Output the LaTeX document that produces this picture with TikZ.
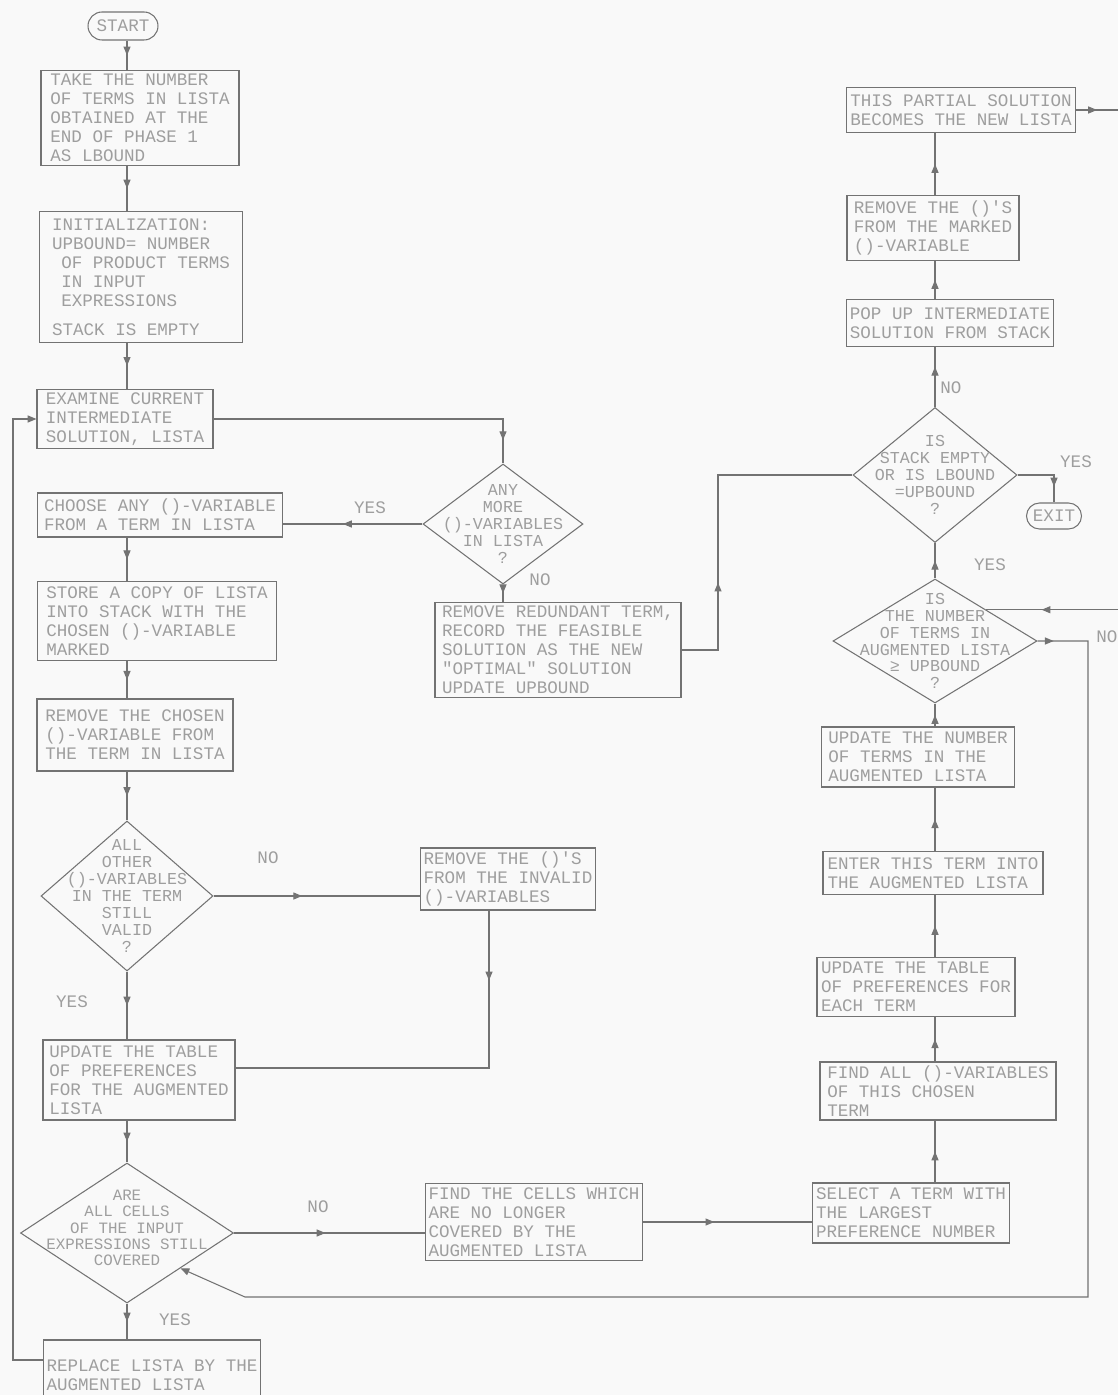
\documentclass[tikz,border=0pt]{standalone}
\usepackage{fontspec}
\usepackage{tikz}
\usetikzlibrary{arrows.meta, decorations.markings, shapes.geometric, shapes.misc}
\newfontfamily\flowfont{Liberation Mono}
\definecolor{scanline}{gray}{0.45}
\definecolor{scantext}{gray}{0.62}
\definecolor{scanpaper}{gray}{0.975}

\begin{document}
\begin{tikzpicture}[x=0.02cm, y=-0.02cm, font=\flowfont\fontsize{10}{10.8}\selectfont,
	sz/.style 2 args={minimum width=#1*0.02cm, minimum height=#2*0.02cm},
	box/.style={draw=scanline, line width=0.6pt, rectangle, text=scantext, align=left, inner sep=2pt},
	dec/.style={draw=scanline, line width=0.6pt, diamond, inner sep=0pt},
	dtxt/.style={text=scantext, align=center, inner sep=0pt, font=\flowfont\fontsize{9.5}{9.6}\selectfont},
	term/.style={draw=scanline, line width=0.6pt, rounded rectangle, text=scantext, inner sep=2pt},
	lbl/.style={text=scantext, inner sep=0pt},
	conn/.style={draw=scanline, line width=0.6pt},
	endarr/.style={-{Triangle[length=5pt, width=4pt]}},
	marr/.style={conn, postaction={decorate, decoration={markings, mark=at position #1 with {\arrow{Triangle[length=5pt, width=4pt]}}}}},
	marr/.default=0.5]
			
			% paper
			\fill[scanpaper] (0,0) rectangle (1118,1395);
			\useasboundingbox (0,0) rectangle (1118,1395);
			\coordinate (lc) at (127,0);
			\coordinate (rc) at (935,0);
			\coordinate (offR) at (1118,0);
			
			% Left column: phase 2 start
			\node[term, sz={77}{28}] (start) at (123,26) {START};
			\node[box, sz={198}{94}] (b1) at (140,118) {TAKE THE NUMBER\\OF TERMS IN LISTA\\OBTAINED AT THE\\END OF PHASE 1\\AS LBOUND};
			\node[box, sz={203}{131}] (b2) at (141,277) {INITIALIZATION:\\UPBOUND= NUMBER\\\hspace*{1ex}OF PRODUCT TERMS\\\hspace*{1ex}IN INPUT\\\hspace*{1ex}EXPRESSIONS\\[0.2cm]STACK IS EMPTY};
			\node[box, sz={176}{58}] (b3) at (125,419) {EXAMINE CURRENT\\INTERMEDIATE\\SOLUTION, LISTA};
			\node[box, sz={245}{44}] (b4) at (160,515) {CHOOSE ANY ()-VARIABLE\\FROM A TERM IN LISTA};
			\node[box, sz={239}{79}] (b5) at (157,621) {STORE A COPY OF LISTA\\INTO STACK WITH THE\\CHOSEN ()-VARIABLE\\MARKED};
			\node[box, sz={196}{72}] (b6) at (135,735) {REMOVE THE CHOSEN\\()-VARIABLE FROM\\THE TERM IN LISTA};
			
			% Validity test
			\node[dec, sz={172}{150}] (d2) at (127,896) {};
			\node[dtxt] at (d2) {ALL\\OTHER\\()-VARIABLES\\IN THE TERM\\STILL\\VALID\\?};
			\node[box, sz={171}{62}] (b7) at (508,879) {REMOVE THE ()'S\\FROM THE INVALID\\()-VARIABLES};
			\node[box, sz={192}{80}] (b8) at (139,1080) {UPDATE THE TABLE\\OF PREFERENCES\\FOR THE AUGMENTED\\LISTA};
			
			% Covering test
			\node[dec, sz={213}{140}] (d3) at (127,1233) {};
			\node[dtxt, font=\flowfont\fontsize{9}{9.2}\selectfont, yshift=0.1cm] at (d3) {ARE\\ALL CELLS\\OF THE INPUT\\EXPRESSIONS STILL\\COVERED};
			\node[box, sz={197}{77}] (b9) at (534,1222) {FIND THE CELLS WHICH\\ARE NO LONGER\\COVERED BY THE\\AUGMENTED LISTA};
			\node[box, sz={210}{70}] (b19) at (152,1375) {REPLACE LISTA BY THE\\AUGMENTED LISTA};
			
			% Middle: any more variables
			\node[dec, sz={160}{120}] (d1) at (503,524) {};
			\node[dtxt] at (d1) {ANY\\MORE\\()-VARIABLES\\IN LISTA\\?};
			\node[box, sz={246}{95}] (b15) at (558,650) {REMOVE REDUNDANT TERM,\\RECORD THE FEASIBLE\\SOLUTION AS THE NEW\\"OPTIMAL" SOLUTION\\UPDATE UPBOUND};
			
			% Right column (read bottom to top)
			\node[box, sz={178}{60}] (b10) at (911,1213) {SELECT A TERM WITH\\THE LARGEST\\PREFERENCE NUMBER};
			\node[box, sz={236}{58}] (b11) at (938,1091) {FIND ALL ()-VARIABLES\\OF THIS CHOSEN\\TERM};
			\node[box, sz={198}{59}] (b12) at (916,987) {UPDATE THE TABLE\\OF PREFERENCES FOR\\EACH TERM};
			\node[box, sz={220}{43}] (b13) at (933,873) {ENTER THIS TERM INTO\\THE AUGMENTED LISTA};
			\node[box, sz={193}{60}] (b14) at (918,757) {UPDATE THE NUMBER\\OF TERMS IN THE\\AUGMENTED LISTA};
			\node[dec, sz={204}{124}] (d4) at (935,641) {};
			\node[dtxt] at (d4) {IS\\THE NUMBER\\OF TERMS IN\\AUGMENTED LISTA\\≥ UPBOUND\\?};
			\node[dec, sz={164}{135}] (d5) at (935,475) {};
			\node[dtxt] at (d5) {IS\\STACK EMPTY\\OR IS LBOUND\\=UPBOUND\\?};
			\node[term, sz={62}{26}] (exit) at (1054,516) {EXIT};
			\node[box, sz={207}{47}] (b16) at (950,323) {POP UP INTERMEDIATE\\SOLUTION FROM STACK};
			\node[box, sz={172}{65}] (b17) at (933,228) {REMOVE THE ()'S\\FROM THE MARKED\\()-VARIABLE};
			\node[box, sz={229}{45}] (b18) at (961,110) {THIS PARTIAL SOLUTION\\BECOMES THE NEW LISTA};
			
			% Connectors, left column
			\draw[marr] (lc |- start.south) -- (lc |- b1.north);
			\draw[marr] (lc |- b1.south) -- (lc |- b2.north);
			\draw[marr] (lc |- b2.south) -- (lc |- b3.north);
			\draw[marr] (lc |- b4.south) -- (lc |- b5.north);
			\draw[marr] (lc |- b5.south) -- (lc |- b6.north);
			\draw[marr] (lc |- b6.south) -- (d2.north);
			\draw[marr] (d2.south) -- (lc |- b8.north);
			\draw[marr] (lc |- b8.south) -- (d3.north);
			\draw[marr] (d3.south) -- (lc |- b19.north);
			\coordinate (k19) at (13,1360);
			\draw[conn, endarr] (b19.west |- k19) -- (k19) -- (k19 |- b3.west) -- (b3.west);
			
			% Connectors, middle
			\draw[marr=0.93] (b3.east) -- (b3.east -| d1.north) -- (d1.north);
			\draw[marr=0.57] (d1.west) -- (d1.west -| b4.east);
			\draw[marr] (d1.south) -- (d1.south |- b15.north);
			\draw[marr=0.43] (d2.east) -- (d2.east -| b7.west);
			\coordinate (k7) at (489,1068);
			\draw[marr=0.17] (b7.south -| k7) -- (k7) -- (k7 -| b8.east);
			\draw[marr=0.48] (d3.east) -- (d3.east -| b9.west);
			\draw[marr=0.42] (b9.east) -- (b9.east -| b10.west);
			\coordinate (k15) at (718,650);
			\draw[marr=0.3] (b15.east) -- (k15) -- (k15 |- d5.west) -- (d5.west);
			
			% Connectors, right column
			\draw[marr] (rc |- b10.north) -- (rc |- b11.south);
			\draw[marr] (rc |- b11.north) -- (rc |- b12.south);
			\draw[marr] (rc |- b12.north) -- (rc |- b13.south);
			\draw[marr] (rc |- b13.north) -- (rc |- b14.south);
			\draw[marr] (rc |- b14.north) -- (d4.south);
			\draw[marr] (d4.north) -- (d5.south);
			\draw[marr=0.67] (d5.north) -- (rc |- b16.south);
			\draw[marr] (rc |- b16.north) -- (rc |- b17.south);
			\draw[marr] (rc |- b17.north) -- (rc |- b18.south);
			\draw[marr] (b18.east) -- (b18.east -| offR);
			\draw[marr=0.58] (d4.north east -| offR) -- (d4.north east);
			\draw[marr=0.75] (d5.east) -- (d5.east -| exit.north) -- (exit.north);
			\coordinate (r1) at (1088,1297);
			\coordinate (r2) at (245,1297);
			\draw[marr=0.01, endarr] (d4.east) -- (d4.east -| r1) -- (r1) -- (r2) -- (d3.south east);
			
			% Branch labels
			\node[lbl] (yes1) at (370,508) {YES};
			\node[lbl] (no1) at (540,580) {NO};
			\node[lbl] (no2) at (268,858) {NO};
			\node[lbl] (yes2) at (72,1002) {YES};
			\node[lbl] (no3) at (318,1207) {NO};
			\node[lbl] (yes3) at (175,1320) {YES};
			\node[lbl, anchor=west] (no4) at (940,388) {NO};
			\node[lbl] (yes4) at (1076,462) {YES};
			\node[lbl] (yes5) at (990,565) {YES};
			\node[lbl, anchor=west] (no5) at (1096,637) {NO};
			
		\end{tikzpicture}
\end{document}
